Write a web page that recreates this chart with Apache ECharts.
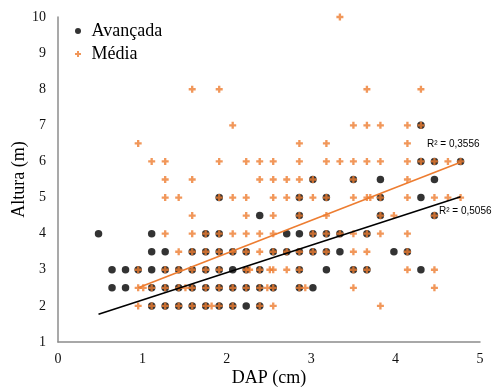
<!DOCTYPE html>
<html>
<head>
<meta charset="utf-8">
<script src="https://cdn.jsdelivr.net/npm/echarts@6/dist/echarts.min.js"></script>
<style>html,body{margin:0;padding:0;background:#fff}#c{width:493px;height:390px}</style>
</head>
<body>
<div id="c"></div>
<script>
// Tick values
const xTicks = [0, 1, 2, 3, 4, 5];
const yTicks = [1, 2, 3, 4, 5, 6, 7, 8, 9, 10];
// Avançada (x = DAP cm, y = Altura m)
const avancada = [
  [1.11,2],[1.27,2],[1.43,2],[1.59,2],[1.75,2],[1.91,2],[2.07,2],[2.23,2],[2.39,2],
  [0.64,2.5],[0.80,2.5],[1.11,2.5],[1.27,2.5],[1.43,2.5],[1.59,2.5],[1.75,2.5],[1.91,2.5],[2.07,2.5],[2.23,2.5],[2.39,2.5],[2.55,2.5],[2.86,2.5],[3.02,2.5],
  [0.64,3],[0.80,3],[0.95,3],[1.11,3],[1.27,3],[1.43,3],[1.59,3],[1.75,3],[1.91,3],[2.07,3],[2.23,3],[2.39,3],[2.86,3],[3.18,3],[3.50,3],[3.66,3],[4.30,3],
  [1.11,3.5],[1.27,3.5],[1.59,3.5],[1.75,3.5],[1.91,3.5],[2.07,3.5],[2.23,3.5],[2.55,3.5],[2.71,3.5],[2.86,3.5],[3.02,3.5],[3.18,3.5],[3.34,3.5],[3.98,3.5],[4.14,3.5],
  [0.48,4],[1.11,4],[1.75,4],[1.91,4],[2.71,4],[2.86,4],[3.02,4],[3.18,4],[3.34,4],[3.66,4],
  [2.39,4.5],[2.86,4.5],[3.82,4.5],[4.46,4.5],
  [1.91,5],[2.86,5],[3.18,5],[3.82,5],[4.30,5],
  [3.02,5.5],[3.50,5.5],[3.82,5.5],[4.46,5.5],
  [4.30,6],[4.46,6],[4.77,6],
  [4.30,7]
];
// Média
const media = [
  [0.95,2],[1.11,2],[1.27,2],[1.43,2],[1.59,2],[1.75,2],[1.82,2],[1.91,2],[2.07,2],[2.39,2],[2.55,2],[3.82,2],
  [0.95,2.5],[1.01,2.5],[1.11,2.5],[1.27,2.5],[1.43,2.5],[1.51,2.5],[1.59,2.5],[1.75,2.5],[1.91,2.5],[2.07,2.5],[2.23,2.5],[2.39,2.5],[2.48,2.5],[2.55,2.5],[2.86,2.5],[2.93,2.5],[3.50,2.5],[4.46,2.5],
  [0.95,3],[1.27,3],[1.43,3],[1.59,3],[1.75,3],[1.91,3],[2.23,3],[2.27,3],[2.39,3],[2.51,3],[2.55,3],[2.71,3],[2.86,3],[3.50,3],[3.66,3],[4.14,3],[4.46,3],
  [1.43,3.5],[1.59,3.5],[1.75,3.5],[1.91,3.5],[2.07,3.5],[2.23,3.5],[2.39,3.5],[2.55,3.5],[2.71,3.5],[2.86,3.5],[3.02,3.5],[3.18,3.5],[3.50,3.5],[3.66,3.5],[4.14,3.5],
  [1.27,4],[1.59,4],[1.75,4],[1.91,4],[2.07,4],[2.23,4],[2.39,4],[2.55,4],[3.02,4],[3.18,4],[3.34,4],[3.50,4],[3.66,4],[3.82,4],[4.14,4],
  [1.59,4.5],[2.23,4.5],[2.55,4.5],[2.86,4.5],[3.18,4.5],[3.82,4.5],[3.98,4.5],[4.46,4.5],
  [1.27,5],[1.43,5],[1.91,5],[2.07,5],[2.23,5],[2.55,5],[2.71,5],[2.86,5],[3.02,5],[3.18,5],[3.50,5],[3.66,5],[3.70,5],[3.82,5],[4.14,5],[4.46,5],[4.62,5],[4.77,5],
  [1.27,5.5],[1.59,5.5],[2.39,5.5],[2.55,5.5],[2.71,5.5],[2.86,5.5],[3.02,5.5],[3.50,5.5],[4.14,5.5],
  [1.11,6],[1.27,6],[1.91,6],[2.23,6],[2.39,6],[2.55,6],[2.86,6],[3.18,6],[3.34,6],[3.50,6],[3.66,6],[3.82,6],[4.14,6],[4.30,6],[4.46,6],[4.62,6],[4.77,6],
  [0.95,6.5],[2.86,6.5],[3.18,6.5],[4.14,6.5],
  [2.07,7],[3.50,7],[3.66,7],[3.82,7],[4.14,7],[4.30,7],
  [1.59,8],[1.91,8],[3.66,8],[4.30,8],
  [3.34,10]
];
// Linear trend lines (endpoints)
const trendAvancada = [[0.48, 1.77], [4.77, 5.02]];
const trendMedia = [[0.95, 2.50], [4.77, 5.98]];
const r2Labels = ['R² = 0,3556', 'R² = 0,5056'];
const seriesNames = ['Avançada', 'Média'];

const ORANGE = '#ED7D31';
const PLUS = 'path://M2,0H4V2H6V4H4V6H2V4H0V2H2Z';
const serif = '"Liberation Serif", "Times New Roman", serif';

const chart = echarts.init(document.getElementById('c'), null, {renderer: 'canvas'});
chart.setOption({
  animation: false,
  backgroundColor: '#fff',
  grid: {left: 58, right: 13, top: 17, bottom: 48, containLabel: false, outerBoundsMode: 'none'},
  legend: {
    orient: 'vertical', left: 70, top: 17, itemWidth: 17, itemHeight: 6, itemGap: 5,
    textStyle: {fontFamily: serif, fontSize: 18, color: '#000'},
    data: [
      {name: seriesNames[0], icon: 'circle', itemStyle: {color: '#000'}},
      {name: seriesNames[1], icon: PLUS, itemStyle: {color: ORANGE}}
    ]
  },
  xAxis: {
    type: 'value', min: xTicks[0], max: xTicks[xTicks.length - 1], interval: 1,
    name: 'DAP (cm)', nameLocation: 'middle', nameGap: 27, nameMoveOverlap: false,
    nameTextStyle: {fontFamily: serif, fontSize: 18, color: '#000'},
    axisLine: {show: true, lineStyle: {color: '#8c8c8c', width: 1.5}},
    axisTick: {show: false}, splitLine: {show: false},
    axisLabel: {fontFamily: serif, fontSize: 14, color: '#111', margin: 10}
  },
  yAxis: {
    type: 'value', min: yTicks[0], max: yTicks[yTicks.length - 1], interval: 1,
    name: 'Altura (m)', nameLocation: 'middle', nameGap: 30, nameMoveOverlap: false,
    nameTextStyle: {fontFamily: serif, fontSize: 18, color: '#000'},
    axisLine: {show: true, lineStyle: {color: '#8c8c8c', width: 1.5}},
    axisTick: {show: false}, splitLine: {show: false},
    axisLabel: {fontFamily: serif, fontSize: 14, color: '#111', margin: 12}
  },
  graphic: [
    {type: 'text', left: 427, top: 139, style: {text: r2Labels[0], font: '10px "Liberation Sans", Arial, sans-serif', fill: '#000'}},
    {type: 'text', left: 439, top: 206, style: {text: r2Labels[1], font: '10px "Liberation Sans", Arial, sans-serif', fill: '#000'}}
  ],
  series: [
    {name: seriesNames[0], type: 'scatter', data: avancada, symbol: 'circle', symbolSize: 7.5,
     itemStyle: {color: '#000'}, z: 2},
    {name: seriesNames[1], type: 'scatter', data: media, symbol: PLUS, symbolSize: 7,
     itemStyle: {color: ORANGE}, z: 3},
    {name: 'trendA', type: 'line', data: trendAvancada, symbol: 'none',
     lineStyle: {color: '#000', width: 1.6}, z: 4, silent: true},
    {name: 'trendM', type: 'line', data: trendMedia, symbol: 'none',
     lineStyle: {color: ORANGE, width: 1.6}, z: 4, silent: true}
  ]
});
</script>
</body>
</html>
